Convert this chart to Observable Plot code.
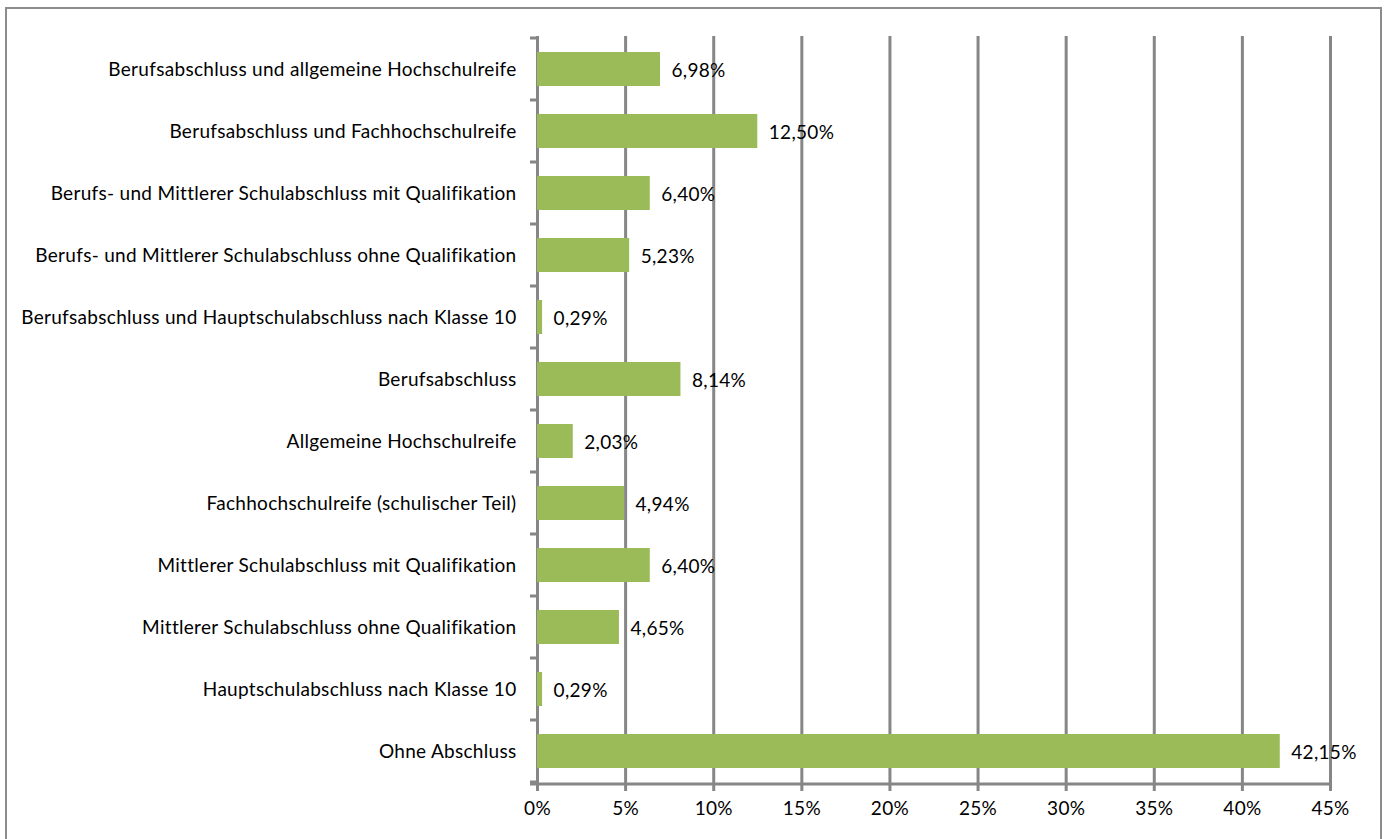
<!DOCTYPE html>
<html>
<head>
<meta charset="utf-8">
<script src="https://cdn.jsdelivr.net/npm/d3@7"></script>
<script src="https://cdn.jsdelivr.net/npm/@observablehq/plot@0.6"></script>
<style>
  html, body { margin: 0; padding: 0; background: #fff; overflow: hidden; }
  #wrap { position: relative; width: 1391px; height: 839px; }
  #border { position: absolute; left: 5px; top: 7px; width: 1377px; height: 850px; border: 2px solid #8c8c8c; box-sizing: border-box; pointer-events: none; }
  svg text { letter-spacing: 0.3px; }
</style>
</head>
<body>
<div id="wrap"><div id="border"></div></div>
<script>
const categories = [
  "Berufsabschluss und allgemeine Hochschulreife",
  "Berufsabschluss und Fachhochschulreife",
  "Berufs- und Mittlerer Schulabschluss mit Qualifikation",
  "Berufs- und Mittlerer Schulabschluss ohne Qualifikation",
  "Berufsabschluss und Hauptschulabschluss nach Klasse 10",
  "Berufsabschluss",
  "Allgemeine Hochschulreife",
  "Fachhochschulreife (schulischer Teil)",
  "Mittlerer Schulabschluss mit Qualifikation",
  "Mittlerer Schulabschluss ohne Qualifikation",
  "Hauptschulabschluss nach Klasse 10",
  "Ohne Abschluss"
];
const values = [6.98, 12.50, 6.40, 5.23, 0.29, 8.14, 2.03, 4.94, 6.40, 4.65, 0.29, 42.15];
const xTicks = [0, 5, 10, 15, 20, 25, 30, 35, 40, 45];

const data = categories.map((c, i) => ({category: c, value: values[i]}));
const fmt = v => v.toFixed(2).replace(".", ",") + "%";
const grid = "#868686";
const font = "Lato, 'Open Sans', sans-serif";
const fs = 19;

// band-boundary tick marks on the y axis and the x-axis baseline
function axisDecor(index, scales, values, dimensions) {
  const y = scales.y, x = scales.x;
  const step = y.step(), bw = y.bandwidth();
  const off = (step - bw) / 2;
  const g = d3.create("svg:g").attr("stroke", grid).attr("stroke-width", 3);
  const x0 = x(0);
  const bounds = categories.map(c => y(c) - off);
  bounds.push(y(categories[categories.length - 1]) + bw + off);
  for (const b of bounds) {
    g.append("line").attr("x1", x0 - 7).attr("x2", x0).attr("y1", b).attr("y2", b);
  }
  const yb = dimensions.height - dimensions.marginBottom;
  g.append("line").attr("x1", x0 - 7).attr("x2", x(45)).attr("y1", yb).attr("y2", yb);
  return g.node();
}

const chart = Plot.plot({
  width: 1391,
  height: 839,
  marginLeft: 537,
  marginRight: 61,
  marginTop: 36,
  marginBottom: 55,
  style: {fontFamily: font, fontSize: fs + "px", color: "#000", background: "transparent"},
  x: {domain: [0, 45], axis: null, label: null},
  y: {domain: categories, paddingInner: 0.45, paddingOuter: 0.225, axis: null, label: null},
  marks: [
    Plot.ruleX(xTicks, {stroke: grid, strokeWidth: 3, strokeOpacity: 1}),
    Plot.axisX(xTicks, {tickSize: 7, tickPadding: 10, stroke: grid, strokeWidth: 3, tickFormat: d => d + "%", fontSize: fs, fill: "#000", label: null}),
    Plot.axisY({tickSize: 0, tickPadding: 21, fontSize: fs, fill: "#000", label: null}),
    Plot.barX(data, {y: "category", x: "value", fill: "#9BBB59"}),
    axisDecor,
    Plot.text(data, {y: "category", x: "value", text: d => fmt(d.value), textAnchor: "start", dx: 11, dy: 1, fontSize: fs, fill: "#000"})
  ]
});
document.getElementById("wrap").prepend(chart);
</script>
</body>
</html>
